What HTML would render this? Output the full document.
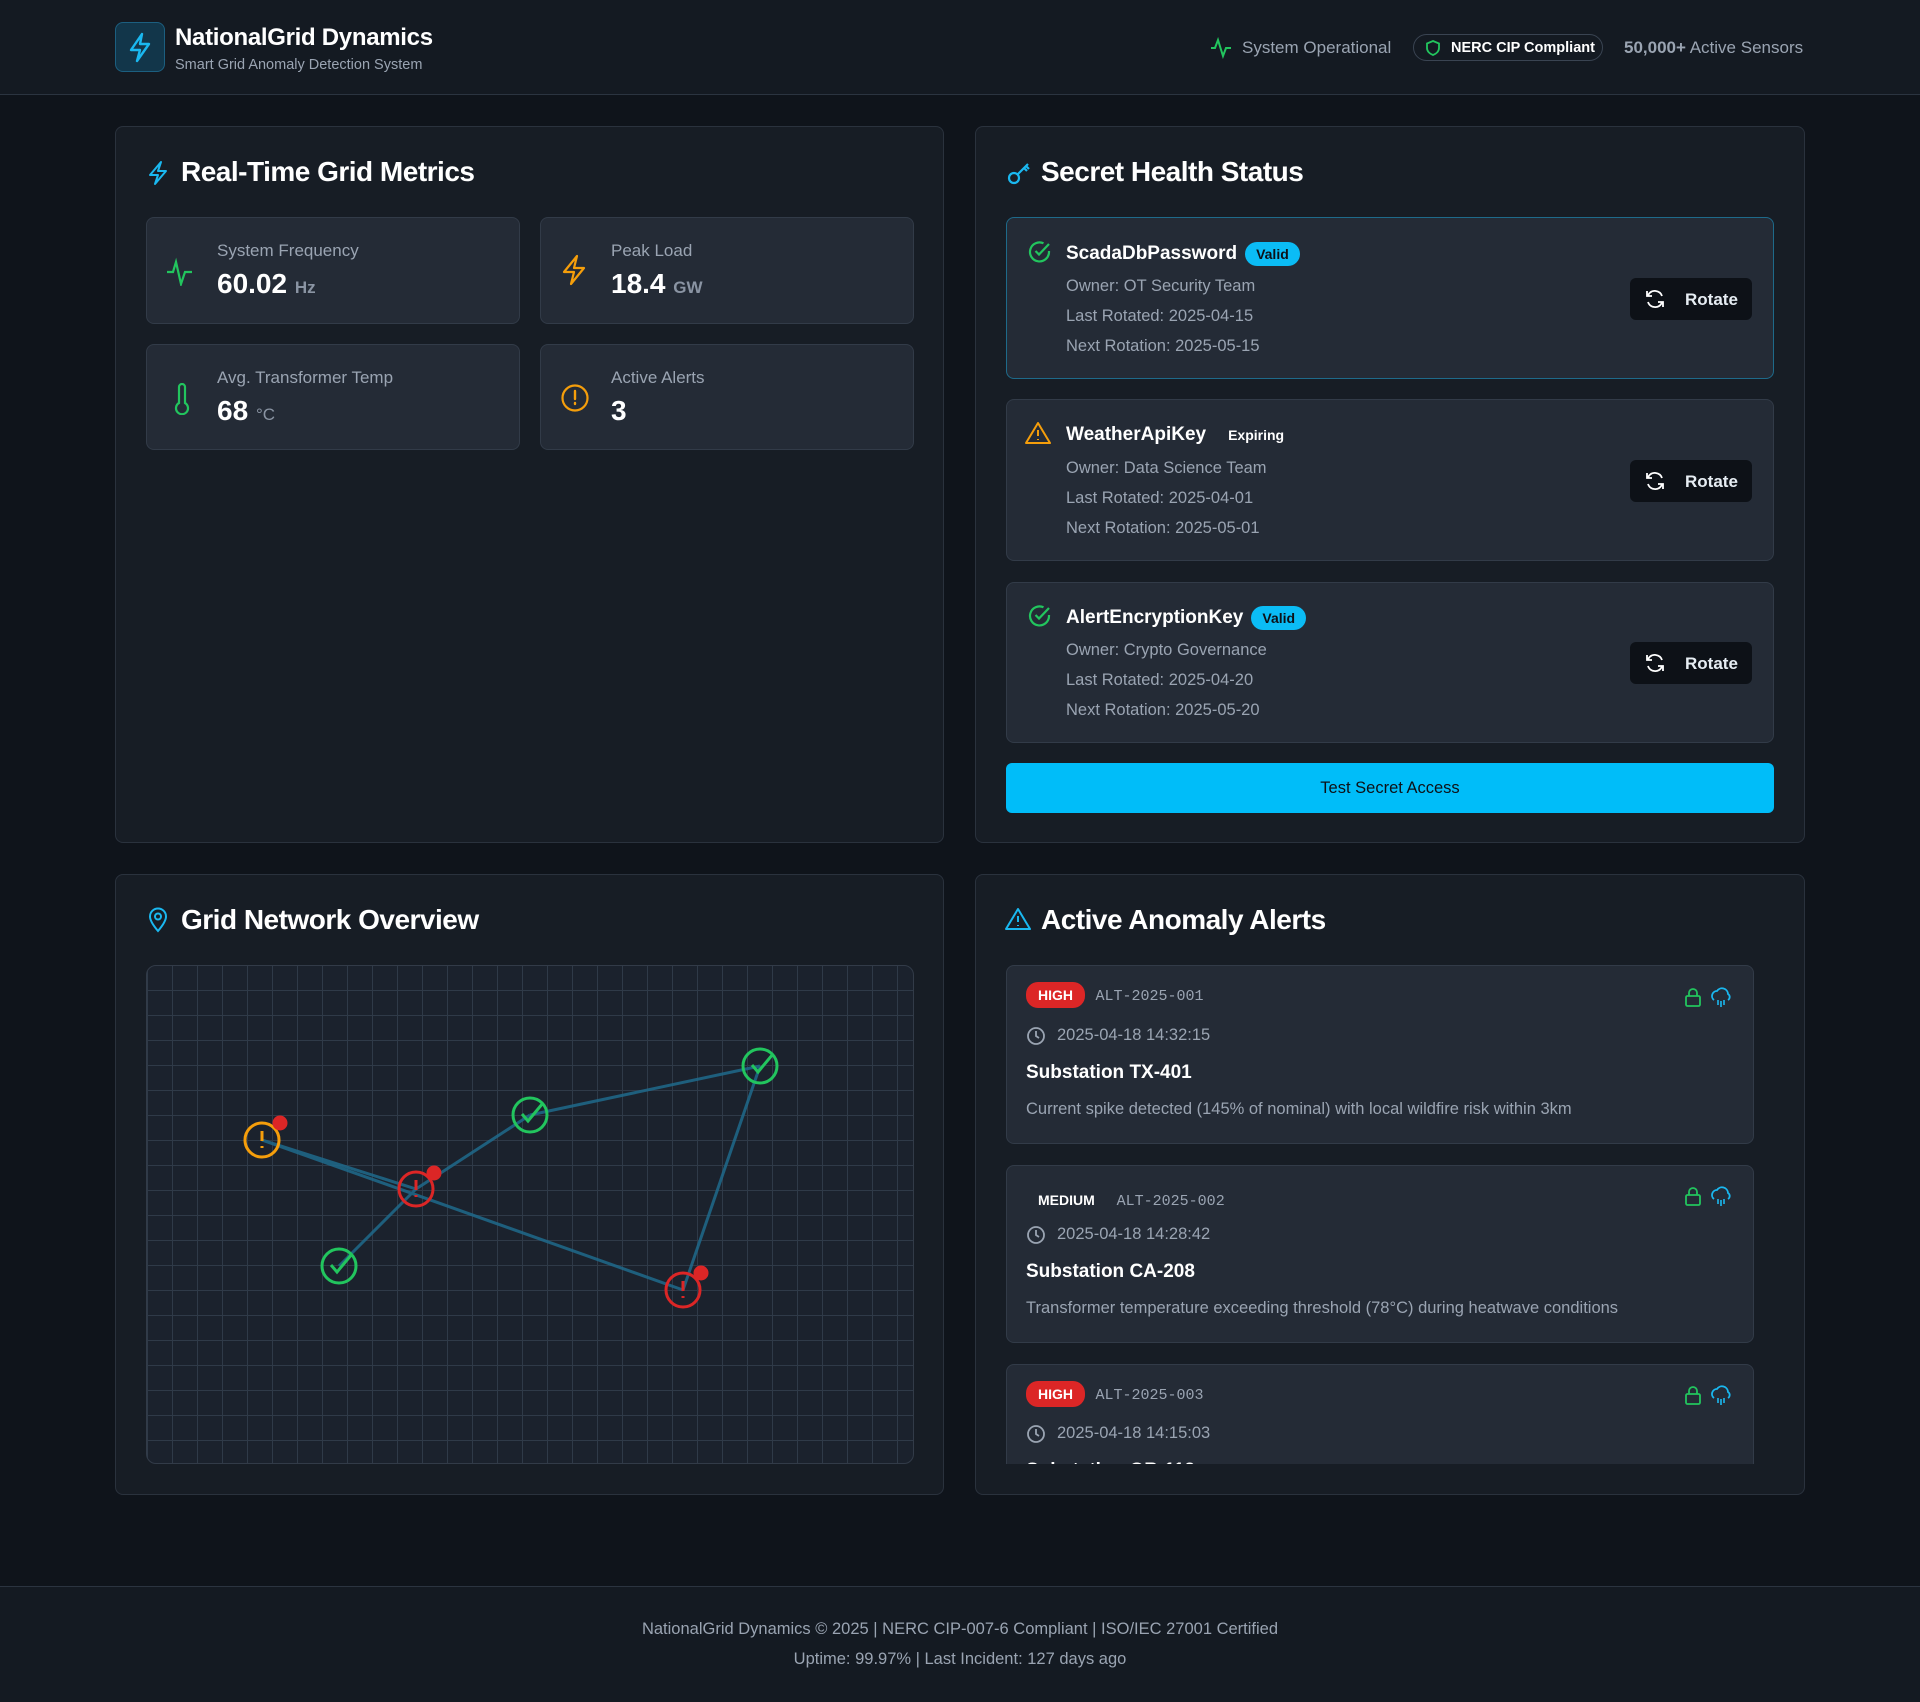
<!DOCTYPE html>
<html><head><meta charset="utf-8">
<style>
*{box-sizing:border-box;margin:0;padding:0}
body{width:1920px;height:1702px;background:#0f141b;font-family:"Liberation Sans",sans-serif;color:#e6edf3;position:relative;overflow:hidden}
.abs{position:absolute}
.header{left:0;top:0;width:1920px;height:95px;background:#141a22;border-bottom:1px solid #2b3440}
.card{background:#171d25;border:1px solid #2a323d;border-radius:8px}
.ctitle{font-size:28px;font-weight:bold;color:#fff;letter-spacing:-0.5px}
.box{background:#242b36;border:1px solid #323b48;border-radius:8px}
.lbl{font-size:17px;color:#9aa4b2}
.val{font-size:28px;font-weight:bold;color:#fff}
.unit{font-size:17px;color:#8a94a3;font-weight:bold}
.sec .name{font-size:19px;font-weight:bold;color:#fff}
.sec .ln{font-size:16.5px;color:#9aa4b2}
.badge{display:inline-block;background:#0bbcf5;color:#0d1117;font-size:14px;border-radius:12px;padding:4px 11px;vertical-align:middle;margin-left:8px}
.rot{background:#0d1117;border-radius:6px;width:122px;height:42px;color:#fff;font-weight:bold;font-size:17px}
.al .mono{font-family:"Liberation Mono",monospace;font-size:15px;color:#9aa4b2}
.hi{background:#dc2626;color:#fff;font-weight:bold;font-size:14px;border-radius:12px;padding:5px 12px}
</style></head><body>
<div class="abs header"></div>
<div class="abs" style="left:115px;top:22px;width:50px;height:50px;border:1px solid #1c5f80;background:#12364a;border-radius:8px">
<svg width="48" height="48" viewBox="0 0 48 48"><path d="M26 11 L15 27 H24 L21 38 L33 21 H24 Z" fill="none" stroke="#1ab8f0" stroke-width="2.4" stroke-linejoin="round"/></svg></div>
<div class="abs" style="left:175px;top:24px;font-size:24px;font-weight:bold;color:#fff;letter-spacing:-0.3px">NationalGrid Dynamics</div>
<div class="abs" style="left:175px;top:57px;font-size:14.5px;color:#9aa4b2">Smart Grid Anomaly Detection System</div>
<svg class="abs" style="left:1210px;top:37px" width="22" height="22" viewBox="0 0 22 22"><path d="M1 11 H5 L8 3 L13 19 L16 11 H21" fill="none" stroke="#22c55e" stroke-width="2"/></svg>
<div class="abs" style="left:1242px;top:38px;font-size:17px;color:#9aa4b2">System Operational</div>
<div class="abs" style="left:1413px;top:34px;width:190px;height:27px;border:1px solid #3a4452;border-radius:14px"></div>
<svg class="abs" style="left:1426px;top:40px" width="14" height="16" viewBox="0 0 14 16"><path d="M7 1 L13 3.5 V8 C13 11.5 10 14 7 15 C4 14 1 11.5 1 8 V3.5 Z" fill="none" stroke="#22c55e" stroke-width="1.8"/></svg>
<div class="abs" style="left:1451px;top:40px;font-size:14.5px;font-weight:bold;color:#fff">NERC CIP Compliant</div>
<div class="abs" style="left:1624px;top:38px;font-size:17px;color:#9aa4b2"><b>50,000+</b> Active Sensors</div>

<!-- card 1 -->
<div class="abs card" style="left:115px;top:126px;width:829px;height:717px"></div>
<svg class="abs" style="left:146px;top:160px" width="24" height="26" viewBox="0 0 24 26"><path d="M15 2 L4 15 H12 L9 24 L20 11 H12 Z" fill="none" stroke="#1ab8f0" stroke-width="2" stroke-linejoin="round"/></svg>
<div class="abs ctitle" style="left:181px;top:156px">Real-Time Grid Metrics</div>

<div class="abs box" style="left:146px;top:217px;width:374px;height:107px"></div>
<svg class="abs" style="left:166px;top:256px" width="28" height="30" viewBox="0 0 28 30"><path d="M1 16 H7 L10 6 L15 28 L19 16 H26" fill="none" stroke="#22c55e" stroke-width="2.2"/></svg>
<div class="abs lbl" style="left:217px;top:241px">System Frequency</div>
<div class="abs val" style="left:217px;top:268px">60.02 <span class="unit">Hz</span></div>

<div class="abs box" style="left:540px;top:217px;width:374px;height:107px"></div>
<svg class="abs" style="left:560px;top:254px" width="28" height="32" viewBox="0 0 28 32"><path d="M17 2 L4 18 H14 L11 30 L24 14 H14 Z" fill="none" stroke="#f59e0b" stroke-width="2.2" stroke-linejoin="round"/></svg>
<div class="abs lbl" style="left:611px;top:241px">Peak Load</div>
<div class="abs val" style="left:611px;top:268px">18.4 <span class="unit">GW</span></div>

<div class="abs box" style="left:146px;top:344px;width:374px;height:106px"></div>
<svg class="abs" style="left:172px;top:383px" width="20" height="32" viewBox="0 0 20 32"><path d="M7 4 a3 3 0 0 1 6 0 V20 a6 6 0 1 1 -6 0 Z" fill="none" stroke="#22c55e" stroke-width="2.2"/></svg>
<div class="abs lbl" style="left:217px;top:368px">Avg. Transformer Temp</div>
<div class="abs val" style="left:217px;top:395px">68 <span class="unit" style="font-weight:normal">°C</span></div>

<div class="abs box" style="left:540px;top:344px;width:374px;height:106px"></div>
<svg class="abs" style="left:560px;top:383px" width="30" height="30" viewBox="0 0 30 30"><circle cx="15" cy="15" r="12.5" fill="none" stroke="#f59e0b" stroke-width="2.2"/><path d="M15 8 V16 M15 20 V21" stroke="#f59e0b" stroke-width="2.4" stroke-linecap="round"/></svg>
<div class="abs lbl" style="left:611px;top:368px">Active Alerts</div>
<div class="abs val" style="left:611px;top:395px">3</div>

<!-- card 2 -->
<div class="abs card" style="left:975px;top:126px;width:830px;height:717px"></div>
<svg class="abs" style="left:1006px;top:160px" width="26" height="26" viewBox="0 0 26 26"><circle cx="8" cy="18" r="5" fill="none" stroke="#1ab8f0" stroke-width="2.2"/><path d="M12 14 L22 4 M18 8 L21 11 M20 6 L23 9" stroke="#1ab8f0" stroke-width="2.2"/></svg>
<div class="abs ctitle" style="left:1041px;top:156px">Secret Health Status</div>

<!-- secret items -->
<div class="abs box sec" style="left:1006px;top:217px;width:768px;height:162px;border-color:#1e6a8a"></div>
<div class="abs box sec" style="left:1006px;top:399px;width:768px;height:162px"></div>
<div class="abs box sec" style="left:1006px;top:582px;width:768px;height:161px"></div>

<div class="sec">
<svg class="abs" style="left:1028px;top:240px" width="24" height="24" viewBox="0 0 24 24"><path d="M21 11 V12 A9.5 9.5 0 1 1 15.5 3.3" fill="none" stroke="#22c55e" stroke-width="2.2"/><path d="M7.5 11 L11 14.5 L21 4" fill="none" stroke="#22c55e" stroke-width="2.2"/></svg>
<div class="abs name" style="left:1066px;top:242px">ScadaDbPassword<span class="badge">Valid</span></div>
<div class="abs ln" style="left:1066px;top:277px">Owner: OT Security Team</div>
<div class="abs ln" style="left:1066px;top:307px">Last Rotated: 2025-04-15</div>
<div class="abs ln" style="left:1066px;top:337px">Next Rotation: 2025-05-15</div>

<svg class="abs" style="left:1025px;top:421px" width="26" height="24" viewBox="0 0 26 24"><path d="M13 2 L25 22 H1 Z" fill="none" stroke="#f59e0b" stroke-width="2" stroke-linejoin="round"/><path d="M13 9 V15 M13 18 V19" stroke="#f59e0b" stroke-width="2"/></svg>
<div class="abs name" style="left:1066px;top:424px">WeatherApiKey<span style="font-size:14px;font-weight:bold;margin-left:22px">Expiring</span></div>
<div class="abs ln" style="left:1066px;top:459px">Owner: Data Science Team</div>
<div class="abs ln" style="left:1066px;top:489px">Last Rotated: 2025-04-01</div>
<div class="abs ln" style="left:1066px;top:519px">Next Rotation: 2025-05-01</div>

<svg class="abs" style="left:1028px;top:604px" width="24" height="24" viewBox="0 0 24 24"><path d="M21 11 V12 A9.5 9.5 0 1 1 15.5 3.3" fill="none" stroke="#22c55e" stroke-width="2.2"/><path d="M7.5 11 L11 14.5 L21 4" fill="none" stroke="#22c55e" stroke-width="2.2"/></svg>
<div class="abs name" style="left:1066px;top:606px">AlertEncryptionKey<span class="badge">Valid</span></div>
<div class="abs ln" style="left:1066px;top:641px">Owner: Crypto Governance</div>
<div class="abs ln" style="left:1066px;top:671px">Last Rotated: 2025-04-20</div>
<div class="abs ln" style="left:1066px;top:701px">Next Rotation: 2025-05-20</div>
</div>

<div class="abs rot" style="left:1630px;top:278px"></div>
<div class="abs rot" style="left:1630px;top:460px"></div>
<div class="abs rot" style="left:1630px;top:642px"></div>
<svg class="abs" style="left:1644px;top:288px" width="22" height="22" viewBox="0 0 22 22"><path d="M18 8 A7.5 7.5 0 0 0 4.5 6.5 L3 8 M4 14 A7.5 7.5 0 0 0 17.5 15.5 L19 14 M3 3 V8 H8 M19 19 V14 H14" fill="none" stroke="#fff" stroke-width="1.8"/></svg>
<svg class="abs" style="left:1644px;top:470px" width="22" height="22" viewBox="0 0 22 22"><path d="M18 8 A7.5 7.5 0 0 0 4.5 6.5 L3 8 M4 14 A7.5 7.5 0 0 0 17.5 15.5 L19 14 M3 3 V8 H8 M19 19 V14 H14" fill="none" stroke="#fff" stroke-width="1.8"/></svg>
<svg class="abs" style="left:1644px;top:652px" width="22" height="22" viewBox="0 0 22 22"><path d="M18 8 A7.5 7.5 0 0 0 4.5 6.5 L3 8 M4 14 A7.5 7.5 0 0 0 17.5 15.5 L19 14 M3 3 V8 H8 M19 19 V14 H14" fill="none" stroke="#fff" stroke-width="1.8"/></svg>
<div class="abs" style="left:1685px;top:290px;font-size:17px;font-weight:bold">Rotate</div>
<div class="abs" style="left:1685px;top:472px;font-size:17px;font-weight:bold">Rotate</div>
<div class="abs" style="left:1685px;top:654px;font-size:17px;font-weight:bold">Rotate</div>

<div class="abs" style="left:1006px;top:763px;width:768px;height:50px;background:#00bdf9;border-radius:6px;color:#0d1117;font-size:16.5px;text-align:center;line-height:50px">Test Secret Access</div>

<!-- card 3 -->
<div class="abs card" style="left:115px;top:874px;width:829px;height:621px"></div>
<svg class="abs" style="left:147px;top:907px" width="22" height="26" viewBox="0 0 22 26"><path d="M11 24 C5 17 3 13 3 9.5 A8 8 0 0 1 19 9.5 C19 13 17 17 11 24 Z" fill="none" stroke="#1ab8f0" stroke-width="2"/><circle cx="11" cy="9.5" r="3" fill="none" stroke="#1ab8f0" stroke-width="2"/></svg>
<div class="abs ctitle" style="left:181px;top:904px">Grid Network Overview</div>

<div class="abs" style="left:146px;top:965px;width:768px;height:499px;border:1px solid #323b48;border-radius:10px;background-color:#1b222d;background-image:linear-gradient(#2f3a48 1px,transparent 1px),linear-gradient(90deg,#2f3a48 1px,transparent 1px);background-size:25px 25px;background-position:0 -1px;overflow:hidden">
<svg width="768" height="499" viewBox="146 965 768 499" style="position:absolute;left:0;top:0">
<g stroke="#1f6a8c" stroke-width="3" opacity="0.85" fill="none">
<line x1="261" y1="1139" x2="415" y2="1188"/>
<line x1="261" y1="1139" x2="682" y2="1289"/>
<line x1="415" y1="1188" x2="529" y2="1114"/>
<line x1="529" y1="1114" x2="759" y2="1065"/>
<line x1="759" y1="1065" x2="682" y2="1289"/>
<line x1="415" y1="1188" x2="338" y2="1265"/>
</g>
<g fill="none" stroke-width="3">
<circle cx="261" cy="1139" r="17" stroke="#f59e0b"/><path d="M261 1130 V1140 M261 1145 V1147" stroke="#f59e0b"/>
<circle cx="415" cy="1188" r="17" stroke="#dc2626"/><path d="M415 1179 V1189 M415 1194 V1196" stroke="#dc2626"/>
<circle cx="682" cy="1289" r="17" stroke="#dc2626"/><path d="M682 1280 V1290 M682 1295 V1297" stroke="#dc2626"/>
<circle cx="529" cy="1114" r="17" stroke="#22c55e"/><path d="M521 1113 L527 1120 L542 1102" stroke="#22c55e"/>
<circle cx="759" cy="1065" r="17" stroke="#22c55e"/><path d="M751 1064 L757 1071 L772 1053" stroke="#22c55e"/>
<circle cx="338" cy="1265" r="17" stroke="#22c55e"/><path d="M330 1264 L336 1271 L351 1253" stroke="#22c55e"/>
</g>
<g fill="#dc2626"><circle cx="279" cy="1122" r="7.5"/><circle cx="433" cy="1172" r="7.5"/><circle cx="700" cy="1272" r="7.5"/></g>
</svg></div>

<!-- card 4 -->
<div class="abs card" style="left:975px;top:874px;width:830px;height:621px"></div>
<svg class="abs" style="left:1005px;top:907px" width="26" height="24" viewBox="0 0 26 24"><path d="M13 2 L25 22 H1 Z" fill="none" stroke="#1ab8f0" stroke-width="2" stroke-linejoin="round"/><path d="M13 9 V15 M13 18 V19" stroke="#1ab8f0" stroke-width="2"/></svg>
<div class="abs ctitle" style="left:1041px;top:904px">Active Anomaly Alerts</div>

<div class="abs al" style="left:1006px;top:965px;width:748px;height:499px;overflow:hidden">
 <div class="abs box" style="left:0;top:0;width:748px;height:179px"></div>
 <div class="abs box" style="left:0;top:200px;width:748px;height:178px"></div>
 <div class="abs box" style="left:0;top:399px;width:748px;height:178px"></div>
 <div class="abs" style="left:20px;top:22px"><span class="hi">HIGH</span> <span class="mono" style="margin-left:6px">ALT-2025-001</span></div>
 <div class="abs" style="left:20px;top:222px;font-weight:bold;font-size:14px;color:#fff"><span style="padding:5px 12px;display:inline-block">MEDIUM</span> <span class="mono" style="margin-left:6px;font-weight:normal">ALT-2025-002</span></div>
 <div class="abs" style="left:20px;top:421px"><span class="hi">HIGH</span> <span class="mono" style="margin-left:6px">ALT-2025-003</span></div>
 <svg class="abs" style="left:20px;top:61px" width="20" height="20" viewBox="0 0 20 20"><circle cx="10" cy="10" r="8" fill="none" stroke="#9aa4b2" stroke-width="1.8"/><path d="M10 5 V10 L13 12" fill="none" stroke="#9aa4b2" stroke-width="1.8"/></svg>
 <svg class="abs" style="left:20px;top:260px" width="20" height="20" viewBox="0 0 20 20"><circle cx="10" cy="10" r="8" fill="none" stroke="#9aa4b2" stroke-width="1.8"/><path d="M10 5 V10 L13 12" fill="none" stroke="#9aa4b2" stroke-width="1.8"/></svg>
 <svg class="abs" style="left:20px;top:459px" width="20" height="20" viewBox="0 0 20 20"><circle cx="10" cy="10" r="8" fill="none" stroke="#9aa4b2" stroke-width="1.8"/><path d="M10 5 V10 L13 12" fill="none" stroke="#9aa4b2" stroke-width="1.8"/></svg>
 <div class="abs" style="left:51px;top:61px;font-size:16.5px;color:#9aa4b2">2025-04-18 14:32:15</div>
 <div class="abs" style="left:51px;top:260px;font-size:16.5px;color:#9aa4b2">2025-04-18 14:28:42</div>
 <div class="abs" style="left:51px;top:459px;font-size:16.5px;color:#9aa4b2">2025-04-18 14:15:03</div>
 <div class="abs" style="left:20px;top:97px;font-size:19px;font-weight:bold;color:#fff">Substation TX-401</div>
 <div class="abs" style="left:20px;top:296px;font-size:19px;font-weight:bold;color:#fff">Substation CA-208</div>
 <div class="abs" style="left:20px;top:495px;font-size:19px;font-weight:bold;color:#fff">Substation OR-112</div>
 <div class="abs" style="left:20px;top:135px;font-size:16.5px;color:#9aa4b2">Current spike detected (145% of nominal) with local wildfire risk within 3km</div>
 <div class="abs" style="left:20px;top:334px;font-size:16.5px;color:#9aa4b2">Transformer temperature exceeding threshold (78°C) during heatwave conditions</div>
 <svg class="abs" style="left:678px;top:22px" width="48" height="22" viewBox="0 0 48 22"><rect x="2" y="9" width="14" height="10" rx="1.5" fill="none" stroke="#22c55e" stroke-width="1.8"/><path d="M5 9 V6 a4 4 0 0 1 8 0 V9" fill="none" stroke="#22c55e" stroke-width="1.8"/><path d="M30 13 a5 5 0 0 1 3 -9 a6 6 0 0 1 11 3 a3.5 3.5 0 0 1 0 6" fill="none" stroke="#1ab8f0" stroke-width="1.8"/><path d="M34 13 V18 M37 14 V20 M40 13 V18" stroke="#1ab8f0" stroke-width="1.6"/></svg>
 <svg class="abs" style="left:678px;top:221px" width="48" height="22" viewBox="0 0 48 22"><rect x="2" y="9" width="14" height="10" rx="1.5" fill="none" stroke="#22c55e" stroke-width="1.8"/><path d="M5 9 V6 a4 4 0 0 1 8 0 V9" fill="none" stroke="#22c55e" stroke-width="1.8"/><path d="M30 13 a5 5 0 0 1 3 -9 a6 6 0 0 1 11 3 a3.5 3.5 0 0 1 0 6" fill="none" stroke="#1ab8f0" stroke-width="1.8"/><path d="M34 13 V18 M37 14 V20 M40 13 V18" stroke="#1ab8f0" stroke-width="1.6"/></svg>
 <svg class="abs" style="left:678px;top:420px" width="48" height="22" viewBox="0 0 48 22"><rect x="2" y="9" width="14" height="10" rx="1.5" fill="none" stroke="#22c55e" stroke-width="1.8"/><path d="M5 9 V6 a4 4 0 0 1 8 0 V9" fill="none" stroke="#22c55e" stroke-width="1.8"/><path d="M30 13 a5 5 0 0 1 3 -9 a6 6 0 0 1 11 3 a3.5 3.5 0 0 1 0 6" fill="none" stroke="#1ab8f0" stroke-width="1.8"/><path d="M34 13 V18 M37 14 V20 M40 13 V18" stroke="#1ab8f0" stroke-width="1.6"/></svg>
</div>

<!-- footer -->
<div class="abs" style="left:0;top:1586px;width:1920px;height:116px;background:#141a22;border-top:1px solid #2b3440"></div>
<div class="abs" style="left:0;top:1620px;width:1920px;text-align:center;font-size:16.5px;color:#9aa4b2">NationalGrid Dynamics © 2025 | NERC CIP-007-6 Compliant | ISO/IEC 27001 Certified</div>
<div class="abs" style="left:0;top:1650px;width:1920px;text-align:center;font-size:16.5px;color:#9aa4b2">Uptime: 99.97% | Last Incident: 127 days ago</div>
</body></html>
